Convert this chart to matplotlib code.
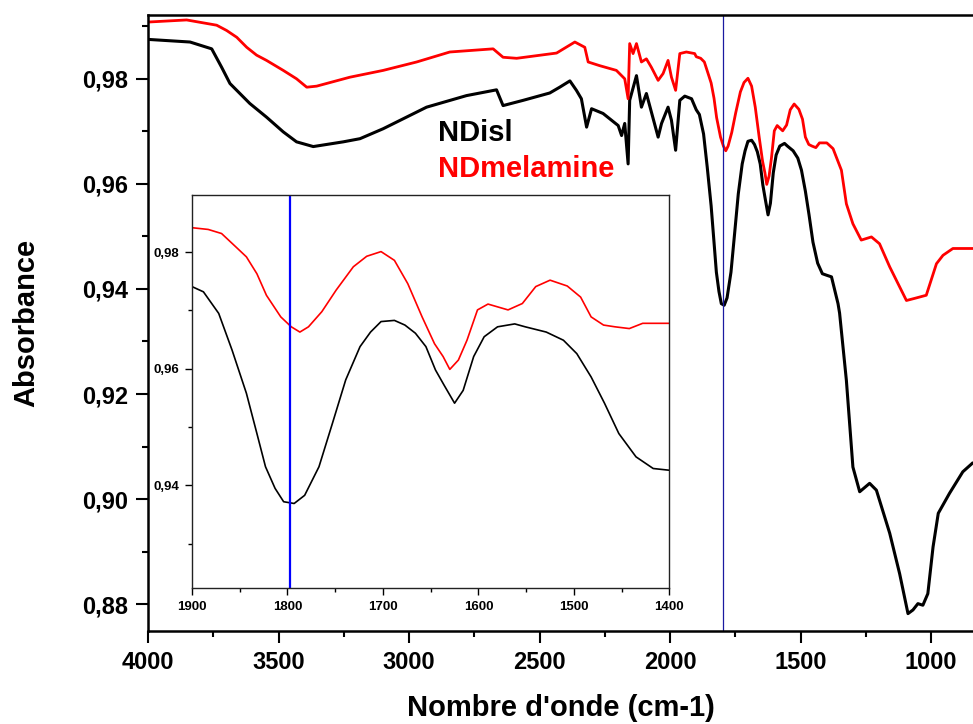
import matplotlib
matplotlib.use("Agg")
import matplotlib.pyplot as plt
from matplotlib.ticker import MultipleLocator, FuncFormatter

plt.rcParams["font.family"] = ["Liberation Sans", "DejaVu Sans"]
plt.rcParams["font.weight"] = "bold"

# NDisl spectrum (wavenumber cm-1, absorbance)
wn_ndisl = [4000, 3839, 3756, 3718, 3686, 3648, 3610, 3546, 3482, 3431, 3367, 3252, 3188, 3099, 2933, 2780,
            2665, 2640, 2563, 2461, 2423, 2384, 2359, 2340, 2320, 2301, 2257, 2199,
            2186, 2174, 2161, 2155, 2129, 2110, 2091, 2072, 2046, 2033, 2008, 1995,
            1979, 1963, 1944, 1918,
            1900, 1888, 1872, 1858, 1843, 1832, 1823, 1813, 1804, 1793, 1782, 1767,
            1753, 1739, 1724, 1713, 1702, 1688, 1677, 1666, 1655, 1645, 1636, 1625,
            1616, 1605, 1594, 1580, 1562, 1551, 1529, 1511, 1497, 1482, 1468, 1453,
            1435, 1417, 1400,
            1382, 1357, 1351, 1325, 1300, 1274, 1236, 1210, 1159, 1121, 1089, 1070,
            1051, 1032, 1013, 993, 973, 930, 879, 843]
abs_ndisl = [0.9875, 0.9870, 0.9857, 0.9822, 0.9791, 0.9772, 0.9753, 0.9727, 0.9699, 0.9680, 0.9671, 0.9680, 0.9686, 0.9705, 0.9746, 0.9768,
             0.9779, 0.9749, 0.9759, 0.9773, 0.9784, 0.9796, 0.9778, 0.9762, 0.9708, 0.9743, 0.9734, 0.9711,
             0.9692, 0.9715, 0.9638, 0.9759, 0.9806, 0.9746, 0.9772, 0.9737, 0.9689, 0.9715, 0.9746, 0.9721,
             0.9664, 0.9759, 0.9767, 0.9762,
             0.9741, 0.9732, 0.9695, 0.9632, 0.9558, 0.9489, 0.9432, 0.9395, 0.9372, 0.9369, 0.9383, 0.9432,
             0.9506, 0.9581, 0.9638, 0.9663, 0.9681, 0.9683, 0.9675, 0.9661, 0.9638, 0.9598, 0.9572, 0.9541,
             0.9563, 0.9621, 0.9655, 0.9672, 0.9677, 0.9672, 0.9663, 0.9649, 0.9626, 0.9586, 0.9541, 0.9489,
             0.9449, 0.9429, 0.9426,
             0.9423, 0.9372, 0.9354, 0.9226, 0.9061, 0.9014, 0.9030, 0.9017, 0.8935, 0.8858, 0.8782, 0.8789,
             0.8801, 0.8798, 0.8820, 0.8909, 0.8973, 0.9011, 0.9052, 0.9068]

# NDmelamine spectrum
wn_ndmel = [4000, 3852, 3737, 3699, 3660, 3622, 3584, 3546, 3482, 3431, 3392, 3354, 3227, 3099, 2971, 2844,
            2678, 2640, 2588, 2435, 2365, 2327, 2314, 2270, 2206, 2174, 2161, 2155,
            2142, 2129, 2110, 2091, 2072, 2046, 2027, 2008, 1995, 1979, 1963, 1938,
            1906,
            1900, 1883, 1869, 1854, 1843, 1832, 1822, 1807, 1796, 1787, 1778, 1764,
            1749, 1731, 1717, 1702, 1688, 1674, 1659, 1646, 1637, 1630, 1621, 1612,
            1601, 1590, 1569, 1554, 1540, 1525, 1507, 1493, 1482, 1469, 1457, 1442,
            1428, 1400,
            1376, 1344, 1325, 1300, 1268, 1229, 1198, 1159, 1095, 1064, 1019, 980,
            955, 917, 842]
abs_ndmel = [0.9908, 0.9912, 0.9902, 0.9892, 0.9879, 0.9860, 0.9845, 0.9835, 0.9816, 0.9800, 0.9784, 0.9786, 0.9803, 0.9816, 0.9832, 0.9851,
             0.9857, 0.9841, 0.9839, 0.9849, 0.9870, 0.9860, 0.9832, 0.9825, 0.9816, 0.9800, 0.9762, 0.9867,
             0.9848, 0.9867, 0.9832, 0.9838, 0.9822, 0.9797, 0.9810, 0.9835, 0.9803, 0.9778, 0.9848, 0.9851,
             0.9848,
             0.9842, 0.9839, 0.9832, 0.9809, 0.9792, 0.9763, 0.9726, 0.9689, 0.9672, 0.9663, 0.9672, 0.9698,
             0.9735, 0.9775, 0.9793, 0.9801, 0.9786, 0.9746, 0.9689, 0.9643, 0.9621, 0.9599, 0.9615, 0.9649,
             0.9701, 0.9711, 0.9701, 0.9712, 0.9741, 0.9752, 0.9742, 0.9723, 0.9689, 0.9675, 0.9672, 0.9669,
             0.9678, 0.9678,
             0.9667, 0.9626, 0.9562, 0.9524, 0.9493, 0.9499, 0.9486, 0.9442, 0.9378, 0.9382, 0.9388, 0.9448,
             0.9464, 0.9477, 0.9477]

marker_wn = 1797


def comma_fmt(v, _):
    return f"{v:.2f}".replace(".", ",")


fig = plt.figure(figsize=(9.73, 7.24), dpi=100)

ax = fig.add_axes([0.1521, 0.1285, 0.8479, 0.8512])
ax.plot(wn_ndisl, abs_ndisl, color="black", lw=2.2)
ax.plot(wn_ndmel, abs_ndmel, color="#ff0000", lw=2.0)
ax.axvline(marker_wn, color="#1a1aa0", lw=0.9)
ax.set_xlim(4000, 840)
ax.set_ylim(0.8749, 0.9922)
ax.xaxis.set_major_locator(MultipleLocator(500))
ax.xaxis.set_minor_locator(MultipleLocator(250))
ax.yaxis.set_major_locator(MultipleLocator(0.02))
ax.yaxis.set_minor_locator(MultipleLocator(0.01))
ax.yaxis.set_major_formatter(FuncFormatter(comma_fmt))
ax.tick_params(which="major", direction="out", length=8.5, width=1.5, labelsize=17, pad=6)
ax.tick_params(which="minor", direction="out", length=4.5, width=1.5)
ax.tick_params(top=False, right=False)
for s in ["left", "bottom", "top"]:
    ax.spines[s].set_linewidth(1.8)
ax.spines["right"].set_visible(False)
ax.set_xlabel("Nombre d'onde (cm-1)", fontsize=21, fontweight="bold")
ax.set_ylabel("Absorbance", fontsize=21, fontweight="bold")
ax.xaxis.set_label_coords(0.5, -0.102)
ax.yaxis.set_label_coords(-0.131, 0.5)

fig.text(0.4502, 0.8052, "NDisl", fontsize=21, fontweight="bold", color="black", va="baseline")
fig.text(0.4502, 0.7555, "NDmelamine", fontsize=21, fontweight="bold", color="#ff0000", va="baseline")

# inset zoom on 1900-1400
ins = fig.add_axes([0.1973, 0.1878, 0.4907, 0.5428])
ins.set_facecolor("white")
ins.plot(wn_ndisl, abs_ndisl, color="black", lw=1.2)
ins.plot(wn_ndmel, abs_ndmel, color="#ff0000", lw=1.2)
ins.axvline(marker_wn, color="#0000ff", lw=1.6)
ins.set_xlim(1900, 1400)
ins.set_ylim(0.9224, 0.9898)
ins.xaxis.set_major_locator(MultipleLocator(100))
ins.xaxis.set_minor_locator(MultipleLocator(50))
ins.yaxis.set_major_locator(MultipleLocator(0.02))
ins.yaxis.set_minor_locator(MultipleLocator(0.01))
ins.yaxis.set_major_formatter(FuncFormatter(comma_fmt))
ins.tick_params(which="major", direction="out", length=5, width=1, labelsize=9.5, pad=4)
ins.tick_params(which="minor", direction="out", length=3, width=1)
for s in ins.spines.values():
    s.set_linewidth(1.0)
    s.set_color("#222222")

fig.savefig("out.png", dpi=100, facecolor="white")
